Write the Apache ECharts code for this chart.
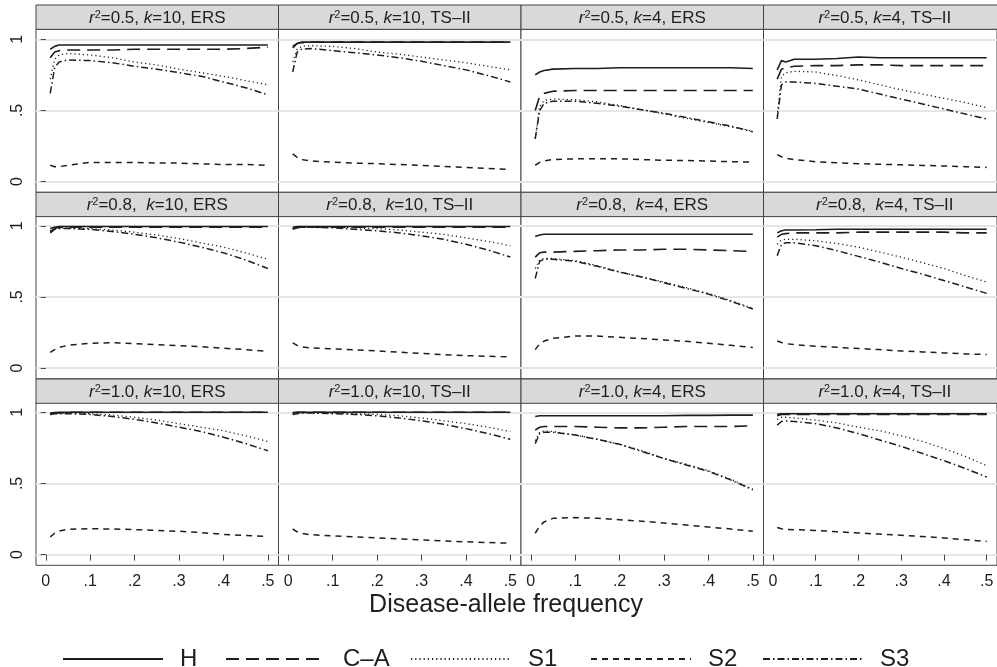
<!DOCTYPE html>
<html>
<head>
<meta charset="utf-8">
<script src="https://cdn.jsdelivr.net/npm/echarts@6/dist/echarts.min.js"></script>
<style>html,body{margin:0;padding:0;background:#fff;}#c{width:997px;height:667px;}</style>
</head>
<body>
<div id="c"></div>
<script>
// Disease-allele frequencies (x)
const freq = [0.01,0.02,0.03,0.05,0.1,0.15,0.2,0.25,0.3,0.35,0.4,0.45,0.5];
const xTicks = [0,0.1,0.2,0.3,0.4,0.5];
const xTickLabels = ['0','.1','.2','.3','.4','.5'];
const yTicks = [0,0.5,1];
const yTickLabels = ['0','.5','1'];
const seriesNames = ['H','C\u2013A','S1','S2','S3'];
// panel titles: [r2 text, k text, design]
const panelR2 = ['0.5','0.5','0.5','0.5','0.8','0.8','0.8','0.8','1.0','1.0','1.0','1.0'];
const panelK = ['10','10','4','4','10','10','4','4','10','10','4','4'];
const panelDesign = ['ERS','TS\u2013II','ERS','TS\u2013II','ERS','TS\u2013II','ERS','TS\u2013II','ERS','TS\u2013II','ERS','TS\u2013II'];

// values per panel (row-major), one array per method
const valH = [
  [0.93,0.95,0.96,0.96,0.96,0.96,0.96,0.96,0.96,0.96,0.96,0.96,0.96],
  [0.95,0.97,0.98,0.98,0.98,0.98,0.98,0.98,0.98,0.98,0.98,0.98,0.98],
  [0.75,0.77,0.78,0.79,0.795,0.795,0.80,0.80,0.80,0.80,0.80,0.80,0.795],
  [0.785,0.85,0.84,0.86,0.86,0.865,0.875,0.87,0.87,0.87,0.87,0.87,0.87],
  [0.98,0.99,0.995,0.995,0.995,0.995,0.995,0.995,0.995,0.995,0.995,0.995,0.995],
  [0.99,0.995,0.995,0.995,0.995,0.995,0.995,0.995,0.995,0.995,0.995,0.995,0.995],
  [0.925,0.935,0.94,0.94,0.94,0.94,0.94,0.94,0.94,0.94,0.94,0.94,0.94],
  [0.95,0.965,0.97,0.97,0.972,0.975,0.975,0.975,0.975,0.975,0.975,0.975,0.975],
  [0.995,0.998,1,1,1,1,1,1,1,1,1,1,1],
  [0.998,1,1,1,1,1,1,1,1,1,1,1,1],
  [0.97,0.975,0.975,0.975,0.975,0.975,0.975,0.975,0.975,0.978,0.978,0.98,0.98],
  [0.985,0.99,0.99,0.99,0.99,0.99,0.99,0.99,0.99,0.99,0.99,0.99,0.99]
];
const valCA = [
  [0.87,0.91,0.92,0.925,0.925,0.925,0.93,0.93,0.93,0.93,0.93,0.935,0.945],
  [0.94,0.97,0.975,0.98,0.98,0.98,0.98,0.98,0.98,0.98,0.98,0.98,0.98],
  [0.50,0.60,0.62,0.635,0.64,0.64,0.64,0.64,0.64,0.64,0.64,0.64,0.64],
  [0.72,0.79,0.80,0.81,0.815,0.815,0.82,0.82,0.815,0.815,0.815,0.815,0.815],
  [0.96,0.98,0.99,0.99,0.99,0.99,0.99,0.99,0.99,0.99,0.99,0.99,0.99],
  [0.98,0.99,0.99,0.99,0.99,0.99,0.99,0.99,0.99,0.99,0.99,0.99,0.99],
  [0.78,0.81,0.815,0.815,0.82,0.825,0.83,0.83,0.835,0.835,0.83,0.825,0.82],
  [0.92,0.94,0.945,0.95,0.95,0.95,0.955,0.955,0.955,0.955,0.955,0.95,0.95],
  [0.99,0.995,0.995,1,1,1,1,1,1,1,1,1,1],
  [0.995,1,1,1,1,1,1,1,1,1,1,1,1],
  [0.875,0.895,0.9,0.9,0.9,0.895,0.89,0.89,0.895,0.9,0.9,0.9,0.905],
  [0.975,0.985,0.985,0.985,0.985,0.985,0.985,0.985,0.985,0.985,0.985,0.985,0.985]
];
const valS1 = [
  [0.72,0.86,0.89,0.90,0.89,0.87,0.84,0.82,0.79,0.765,0.74,0.71,0.68],
  [0.84,0.93,0.95,0.955,0.95,0.935,0.91,0.895,0.875,0.855,0.835,0.81,0.785],
  [0.30,0.53,0.57,0.58,0.575,0.56,0.535,0.505,0.475,0.445,0.415,0.385,0.355],
  [0.46,0.74,0.765,0.775,0.77,0.745,0.715,0.68,0.645,0.615,0.585,0.555,0.52],
  [0.96,0.98,0.985,0.985,0.98,0.97,0.955,0.935,0.91,0.88,0.85,0.81,0.765],
  [0.98,0.99,0.99,0.99,0.99,0.985,0.98,0.97,0.955,0.94,0.915,0.89,0.86],
  [0.70,0.76,0.77,0.77,0.755,0.72,0.675,0.64,0.605,0.565,0.525,0.475,0.42],
  [0.87,0.90,0.905,0.905,0.895,0.875,0.85,0.815,0.78,0.74,0.70,0.65,0.605],
  [0.99,0.995,0.995,0.995,0.99,0.98,0.965,0.945,0.92,0.895,0.87,0.835,0.795],
  [0.99,0.995,0.995,0.995,0.995,0.99,0.985,0.975,0.96,0.94,0.92,0.895,0.865],
  [0.80,0.86,0.87,0.865,0.84,0.81,0.775,0.73,0.675,0.635,0.59,0.53,0.46],
  [0.95,0.965,0.965,0.96,0.945,0.925,0.895,0.87,0.835,0.795,0.745,0.69,0.625]
];
const valS2 = [
  [0.115,0.105,0.105,0.115,0.135,0.135,0.135,0.13,0.13,0.125,0.12,0.12,0.115],
  [0.195,0.17,0.155,0.145,0.137,0.13,0.126,0.12,0.114,0.107,0.10,0.093,0.086],
  [0.115,0.135,0.145,0.155,0.16,0.16,0.16,0.155,0.15,0.148,0.145,0.14,0.137],
  [0.19,0.175,0.165,0.155,0.14,0.132,0.126,0.122,0.118,0.114,0.11,0.105,0.10],
  [0.11,0.13,0.145,0.16,0.175,0.178,0.172,0.165,0.158,0.15,0.14,0.13,0.117],
  [0.178,0.16,0.15,0.142,0.135,0.128,0.121,0.112,0.103,0.095,0.088,0.083,0.079],
  [0.13,0.17,0.19,0.21,0.225,0.225,0.216,0.208,0.198,0.188,0.175,0.16,0.145],
  [0.19,0.18,0.172,0.165,0.154,0.146,0.138,0.13,0.121,0.114,0.107,0.10,0.096],
  [0.125,0.15,0.165,0.178,0.182,0.18,0.176,0.17,0.164,0.155,0.142,0.134,0.128],
  [0.18,0.16,0.15,0.14,0.132,0.125,0.118,0.11,0.103,0.096,0.09,0.085,0.08],
  [0.15,0.20,0.23,0.255,0.26,0.255,0.245,0.235,0.222,0.208,0.194,0.18,0.164],
  [0.19,0.182,0.178,0.175,0.17,0.161,0.152,0.144,0.136,0.127,0.117,0.105,0.093]
];
const valS3 = [
  [0.62,0.80,0.84,0.855,0.85,0.835,0.81,0.79,0.765,0.74,0.70,0.66,0.61],
  [0.77,0.91,0.93,0.935,0.92,0.905,0.89,0.87,0.845,0.815,0.785,0.745,0.70],
  [0.30,0.50,0.55,0.565,0.565,0.55,0.53,0.505,0.48,0.45,0.42,0.39,0.35],
  [0.44,0.68,0.70,0.70,0.69,0.67,0.65,0.615,0.58,0.545,0.51,0.475,0.44],
  [0.95,0.975,0.98,0.98,0.975,0.96,0.94,0.915,0.885,0.85,0.81,0.76,0.70],
  [0.975,0.985,0.99,0.99,0.985,0.975,0.965,0.95,0.93,0.905,0.87,0.83,0.78],
  [0.63,0.75,0.765,0.765,0.75,0.715,0.675,0.64,0.60,0.56,0.52,0.47,0.415],
  [0.79,0.87,0.88,0.88,0.86,0.825,0.785,0.745,0.70,0.66,0.615,0.57,0.525],
  [0.985,0.99,0.99,0.99,0.985,0.97,0.95,0.925,0.895,0.865,0.825,0.78,0.73],
  [0.985,0.99,0.995,0.995,0.99,0.985,0.975,0.96,0.94,0.915,0.885,0.85,0.81],
  [0.78,0.85,0.86,0.86,0.84,0.81,0.775,0.725,0.675,0.63,0.585,0.525,0.455],
  [0.91,0.935,0.94,0.935,0.92,0.89,0.85,0.805,0.76,0.71,0.66,0.605,0.545]
];

const FONT = '"Liberation Sans", Arial, sans-serif';
const INK = '#1e1e1e';
const colLeft = [36, 278.5, 521, 763.5];
const colWidth = 242.5;
const headTop = [5, 192.3, 379];
const headH = 24.3;
const plotTop = [29.3, 215.8, 402.3];
const plotH = 163;

const styles = [
  {type:'solid', width:1.6},
  {type:[13,7], width:1.6},
  {type:[1.2,3], width:1.3},
  {type:[6,5], width:1.5},
  {type:[7,3,1.5,3], width:1.5}
];
const allVals = [valH, valCA, valS1, valS2, valS3];

const grids = [], xAxes = [], yAxes = [], series = [], graphics = [];
for (let p = 0; p < 12; p++) {
  const r = Math.floor(p / 4), c = p % 4;
  grids.push({left: colLeft[c], top: plotTop[r], width: colWidth, height: plotH,
    show: true, borderColor: '#444', borderWidth: 1, backgroundColor: '#fff', containLabel: false});
  const bottomRow = r === 2, leftCol = c === 0;
  xAxes.push({type:'value', gridIndex:p, min:-0.022, max:0.524,
    axisLine:{show:false}, splitLine:{show:false},
    axisTick:{show:bottomRow, customValues: xTicks, length:6, lineStyle:{color:'#444'}},
    axisLabel:{show:bottomRow, customValues: xTicks, fontSize:16, color:INK, fontFamily:FONT, margin:8,
      formatter: v => { const i = xTicks.findIndex(t => Math.abs(t - v) < 1e-9); return i >= 0 ? xTickLabels[i] : ''; }}
  });
  yAxes.push({type:'value', gridIndex:p, min:-0.075, max:1.07,
    axisLine:{show:false},
    splitLine:{show:true, lineStyle:{color:'#e6e6e6', width:2}},
    axisTick:{show:leftCol, customValues: yTicks, length:5, lineStyle:{color:'#444'}},
    axisLabel:{show:leftCol, customValues: yTicks, rotate:90, fontSize:16, color:INK, fontFamily:FONT, margin:10,
      formatter: v => { const i = yTicks.findIndex(t => Math.abs(t - v) < 1e-9); return i >= 0 ? yTickLabels[i] : ''; }}
  });
  for (let s = 0; s < 5; s++) {
    series.push({type:'line', name: seriesNames[s], xAxisIndex:p, yAxisIndex:p,
      data: freq.map((x, j) => [x, allVals[s][p][j]]),
      symbol:'none', showSymbol:false, silent:true, animation:false,
      color: INK,
      lineStyle:{color:INK, width:styles[s].width, type:styles[s].type}
    });
  }
  // header strip
  graphics.push({type:'rect', silent:true, shape:{x: colLeft[c], y: headTop[r], width: colWidth, height: headH},
    style:{fill:'#d9d9d9', stroke:'#444', lineWidth:1}});
  const sep = r === 1 ? ',  ' : ', ';
  graphics.push({type:'text', silent:true, x: colLeft[c] + colWidth/2, y: headTop[r] + headH/2 + 1,
    style:{text: '{i|r}{sup|2}=' + panelR2[p] + sep + '{i|k}=' + panelK[p] + ', ' + panelDesign[p],
      align:'center', verticalAlign:'middle', fill:INK, fontSize:17, fontFamily:FONT,
      rich:{ i:{fontStyle:'italic', fontSize:17, fontFamily:FONT, fill:INK, color:INK},
             sup:{fontSize:11, fontFamily:FONT, verticalAlign:'top', fill:INK, color:INK} }}});
}
graphics.push({type:'text', silent:true, x: 506, y: 605,
  style:{text:'Disease-allele frequency', align:'center', verticalAlign:'middle', fill:INK, fontSize:25, fontFamily:FONT}});

const legendLeft = [57, 220, 405, 585, 757];
const legends = seriesNames.map((n, i) => ({
  data:[n], left: legendLeft[i], top: 642, itemWidth: 100, itemHeight: 14,
  selectedMode:false,
  itemStyle:{color:'rgba(0,0,0,0)', borderWidth:0, opacity:0},
  textStyle:{fontSize:24, color:INK, fontFamily:FONT, padding:[0,0,0,12]}
}));

const chart = echarts.init(document.getElementById('c'), null, {renderer:'canvas'});
chart.setOption({
  backgroundColor:'#fff',
  animation:false,
  grid: grids, xAxis: xAxes, yAxis: yAxes, series: series,
  legend: legends,
  graphic: graphics
});
</script>
</body>
</html>
